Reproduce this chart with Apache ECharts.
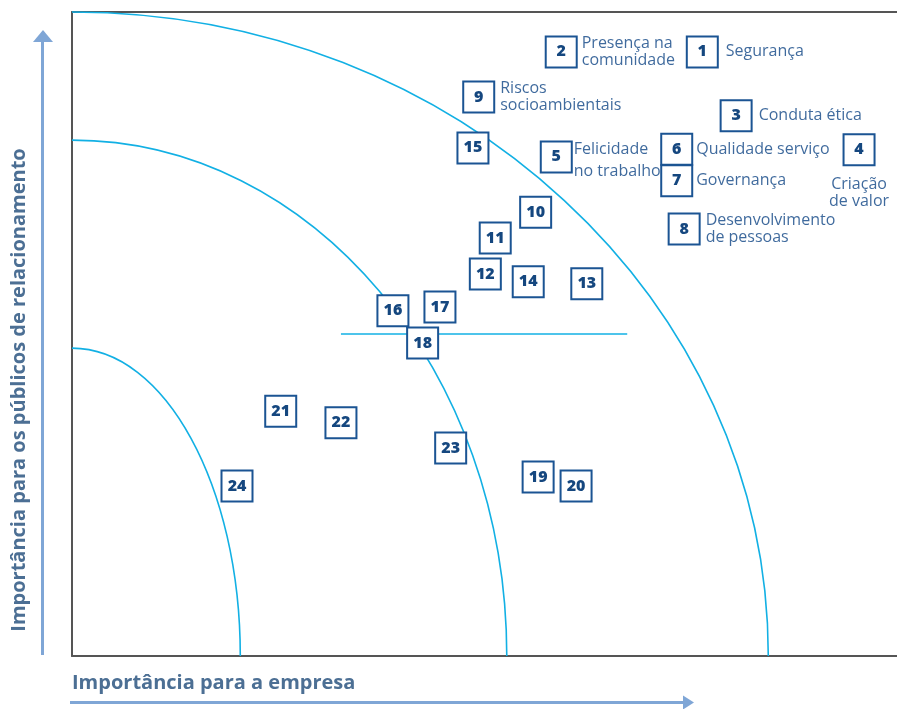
<!DOCTYPE html>
<html lang="pt">
<head>
    <meta charset="UTF-8">
    <title>Matriz de materialidade</title>
    <script src="https://cdn.jsdelivr.net/npm/echarts@6/dist/echarts.min.js"></script>
    <style>
        html, body { margin: 0; padding: 0; background: #fff; }
    </style>
</head>
<body>
<div style="width: 897px; height: 709px" id="chart"></div>

<script type="text/javascript">
    // temas numerados: importancia para a empresa (x) e para os publicos (y), escala 0-100
    var topicIds = [1, 2, 3, 4, 5, 6, 7, 8, 9, 10, 11, 12, 13, 14, 15, 16, 17, 18, 19, 20, 21, 22, 23, 24];
    var empresa = [76.4, 59.3, 80.5, 95.4, 58.7, 73.3, 73.3, 74.2, 49.3, 56.2, 51.3, 50.1,
                   62.4, 55.3, 48.6, 38.9, 44.6, 42.5, 56.5, 61.1, 25.3, 32.6, 45.9, 20.0];
    var publicos = [93.8, 93.8, 83.9, 78.6, 77.5, 78.7, 73.8, 66.3, 86.8, 68.9, 64.9, 59.3,
                    57.8, 58.1, 78.9, 53.6, 54.2, 48.6, 27.8, 26.4, 38.0, 36.2, 32.3, 26.4];

    // nomes dos temas que aparecem escritos
    var topicNames = {
        1: 'Segurança',
        2: 'Presença na\ncomunidade',
        3: 'Conduta ética',
        4: 'Criação\nde valor',
        5: 'Felicidade\nno trabalho',
        6: 'Qualidade serviço',
        7: 'Governança',
        8: 'Desenvolvimento\nde pessoas',
        9: 'Riscos\nsocioambientais'
    };

    // faixas (quartos de elipse a partir da origem): raio x, raio y
    var bandRadii = [[84.4, 100], [52.7, 80.1], [20.4, 47.8]];
    // linha horizontal de corte
    var cutLine = [[32.6, 50], [67.3, 50]];

    var navy = '#1b5493';
    var cyan = '#12b0e4';
    var titleColor = '#4c6f94';
    var arrowColor = '#7fa6d6';

    // onde fica cada nome em relacao a caixa
    var namePlacement = {
        1: {position: 'right', distance: 8},
        2: {position: 'right', distance: 5},
        3: {position: 'right', distance: 7},
        4: {position: 'bottom', distance: 11, align: 'center'},
        5: {position: 'right', distance: 2, lineHeight: 22, offset: [0, 4]},
        6: {position: 'right', distance: 4},
        7: {position: 'right', distance: 4},
        8: {position: 'right', distance: 6},
        9: {position: 'right', distance: 6}
    };

    var boxData = topicIds.map(function (id, i) {
        return {name: String(id), value: [empresa[i], publicos[i]]};
    });

    var nameData = [];
    topicIds.forEach(function (id, i) {
        if (!topicNames[id]) return;
        var p = namePlacement[id];
        nameData.push({
            name: topicNames[id],
            value: [empresa[i], publicos[i]],
            label: {
                position: p.position,
                distance: p.distance,
                offset: p.offset || [0, 0],
                align: p.align || 'left',
                lineHeight: p.lineHeight || 17
            }
        });
    });

    var K = 0.5523;

    var myChart = echarts.init(document.getElementById('chart'));
    var option = {
        animation: false,
        backgroundColor: '#fff',
        grid: {left: 72, right: 0, top: 12, bottom: 53},
        xAxis: [{
            type: 'value', min: 0, max: 100,
            axisLine: {show: true, lineStyle: {color: '#555', width: 2}},
            axisTick: {show: false}, axisLabel: {show: false}, splitLine: {show: false}
        }, {
            type: 'value', min: 0, max: 100, position: 'top',
            axisLine: {show: true, lineStyle: {color: '#555', width: 2}},
            axisTick: {show: false}, axisLabel: {show: false}, splitLine: {show: false}
        }],
        yAxis: {
            type: 'value', min: 0, max: 100,
            axisLine: {show: true, lineStyle: {color: '#555', width: 2}},
            axisTick: {show: false}, axisLabel: {show: false}, splitLine: {show: false}
        },
        graphic: [
            {type: 'line', shape: {x1: 42.5, y1: 655, x2: 42.5, y2: 40}, style: {stroke: arrowColor, lineWidth: 3}},
            {type: 'polygon', shape: {points: [[33, 42], [43, 30], [53, 42]]}, style: {fill: arrowColor}},
            {type: 'line', shape: {x1: 70, y1: 702.5, x2: 685, y2: 702.5}, style: {stroke: arrowColor, lineWidth: 3}},
            {type: 'polygon', shape: {points: [[683, 695.5], [694, 702.5], [683, 709.5]]}, style: {fill: arrowColor}},
            {
                type: 'text', x: 19, y: 390, rotation: Math.PI / 2,
                style: {
                    text: 'Importância para os públicos de relacionamento',
                    font: 'bold 20px "Open Sans"', fill: titleColor,
                    align: 'center', verticalAlign: 'middle'
                }
            },
            {
                type: 'text', x: 72, y: 683,
                style: {
                    text: 'Importância para a empresa',
                    font: 'bold 20px "Open Sans"', fill: titleColor,
                    align: 'left', verticalAlign: 'middle'
                }
            }
        ],
        series: [
            {
                type: 'custom',
                silent: true,
                z: 1,
                data: bandRadii,
                renderItem: function (params, api) {
                    var o = api.coord([0, 0]);
                    var rx = api.size([api.value(0), 0])[0];
                    var ry = api.size([0, api.value(1)])[1];
                    return {
                        type: 'bezierCurve',
                        shape: {
                            x1: o[0], y1: o[1] - ry,
                            cpx1: o[0] + K * rx, cpy1: o[1] - ry,
                            cpx2: o[0] + rx, cpy2: o[1] - K * ry,
                            x2: o[0] + rx, y2: o[1]
                        },
                        style: {stroke: cyan, fill: null, lineWidth: 1.6}
                    };
                }
            },
            {
                type: 'line',
                silent: true,
                z: 1,
                data: cutLine,
                symbol: 'none',
                lineStyle: {color: cyan, width: 1.6}
            },
            {
                type: 'scatter',
                z: 3,
                data: boxData,
                symbol: 'rect',
                symbolSize: 31,
                itemStyle: {color: '#fff', borderColor: navy, borderWidth: 2, opacity: 1},
                label: {
                    show: true,
                    position: 'inside',
                    formatter: '{b}',
                    color: '#15477f',
                    fontFamily: 'Open Sans',
                    fontWeight: 800,
                    fontSize: 16
                }
            },
            {
                type: 'scatter',
                z: 2,
                data: nameData,
                symbol: 'rect',
                symbolSize: 31,
                itemStyle: {color: 'rgba(0,0,0,0)'},
                label: {
                    show: true,
                    formatter: '{b}',
                    color: '#0f4585',
                    fontFamily: 'Open Sans',
                    fontSize: 16
                }
            }
        ]
    };

    myChart.setOption(option);
</script>
</body>
</html>
